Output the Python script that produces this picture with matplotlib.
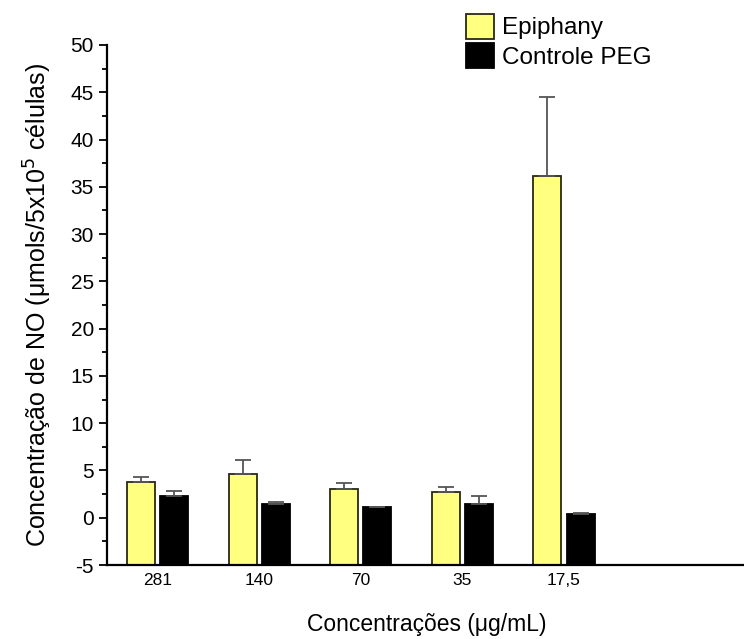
import matplotlib.pyplot as plt
import numpy as np

plt.rcParams['font.family'] = ['Liberation Sans', 'DejaVu Sans']
plt.rcParams['axes.unicode_minus'] = False

concentracoes = ['281', '140', '70', '35', '17,5']
epiphany = [3.8, 4.6, 3.0, 2.7, 36.1]
epiphany_err = [0.5, 1.5, 0.7, 0.5, 8.4]
peg = [2.3, 1.45, 1.1, 1.4, 0.4]
peg_err = [0.5, 0.2, 0.05, 0.9, 0.05]

base = -5
x = np.arange(len(concentracoes))
w = 0.275
off = 0.163

fig = plt.figure(figsize=(7.44, 6.39), dpi=100)
ax = fig.add_axes([0.1438, 0.1158, 0.86, 0.8138])

ax.bar(x - off, np.array(epiphany) - base, w, bottom=base, color='#ffff80',
       edgecolor='#2a2a10', linewidth=1.3, label='Epiphany')
ax.bar(x + off, np.array(peg) - base, w, bottom=base, color='black',
       edgecolor='black', linewidth=1.3, label='Controle PEG')

ax.errorbar(x - off, epiphany, yerr=[np.zeros(5), epiphany_err], fmt='none',
            ecolor='#555555', elinewidth=1.3, capsize=6, capthick=1.3)
ax.errorbar(x + off, peg, yerr=[np.zeros(5), peg_err], fmt='none',
            ecolor='#555555', elinewidth=1.3, capsize=6, capthick=1.3)

ax.set_xlim(-0.5, 5.8)
ax.set_ylim(-5, 50)
ax.set_yticks(np.arange(-5, 51, 5))
ax.set_yticks(np.arange(-2.5, 50, 5), minor=True)
ax.set_xticks(x)
ax.set_xticklabels(concentracoes)

for s in ['top', 'right']:
    ax.spines[s].set_visible(False)
for s in ['left', 'bottom']:
    ax.spines[s].set_linewidth(1.6)

ax.tick_params(axis='y', which='major', length=6, width=1.3, labelsize=15, direction='out')
ax.tick_params(axis='y', which='minor', length=3.5, width=1.3)
ax.tick_params(axis='x', length=0, labelsize=12.5, pad=6)

ax.set_ylabel('Concentração de NO (\u03bcmols/5x10$^5$ células)', fontsize=18, labelpad=12)
ax.set_xlabel('Concentrações (\u03bcg/mL)', fontsize=16.5, labelpad=18)

ax.legend(loc='upper left', bbox_to_anchor=(0.561, 1.06), frameon=False,
          fontsize=17.5, handlelength=1.15, handleheight=1.2, handletextpad=0.35,
          labelspacing=0.15, borderaxespad=0, borderpad=0)

fig.savefig('out.png', dpi=100)
